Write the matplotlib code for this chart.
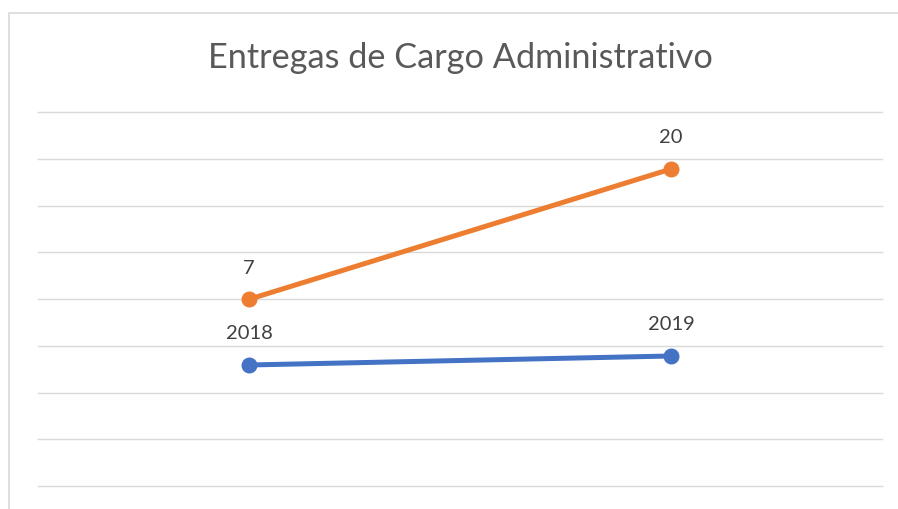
import numpy as np
import matplotlib.pyplot as plt
from matplotlib.patches import Rectangle

# data
categories = [0, 1]
orange_vals = [7, 20]
blue_vals = [2018, 2019]
title = "Entregas de Cargo Administrativo"

ORANGE = "#ED7D31"
BLUE = "#4472C4"
GRID = "#D9D9D9"
TXT = "#404040"

plt.rcParams["font.family"] = ["Lato", "DejaVu Sans"]

fig = plt.figure(figsize=(8.98, 5.09), dpi=100)
fig.patch.set_facecolor("white")

# chart frame
fig.patches.append(Rectangle((9 / 898, -0.1), 1.2, 0.1 + (1 - 13 / 509),
                             transform=fig.transFigure, fill=False,
                             edgecolor=GRID, lw=1.2))

ax = fig.add_axes([38 / 898, 23 / 509, 844 / 898, 374 / 509])
ylo, yhi = -11.63, 25.69
ax.set_ylim(ylo, yhi)
ax.set_xlim(-0.5, 1.5)
ax.set_yticks(np.linspace(ylo, yhi, 9))
ax.yaxis.grid(True, color=GRID, lw=1.0)
ax.set_axisbelow(True)
for s in ax.spines.values():
    s.set_visible(False)

ax.plot(categories, orange_vals, color=ORANGE, lw=3.6, marker="o",
        markersize=10.5, solid_capstyle="round", zorder=3)
for x, v in zip(categories, orange_vals):
    ax.annotate(str(v), (x, v), xytext=(0, 18.4), textcoords="offset points",
                ha="center", va="baseline", fontsize=14.5, color=TXT)

# second series sits on its own (hidden) axis
ax2 = ax.twinx()
ax2.set_ylim(2004.56, 2046.1)
ax2.set_xlim(-0.5, 1.5)
ax2.axis("off")
ax2.plot(categories, blue_vals, color=BLUE, lw=3.6, marker="o",
         markersize=10.5, solid_capstyle="round", zorder=3)
for x, v in zip(categories, blue_vals):
    ax2.annotate(str(v), (x, v), xytext=(0, 18.4), textcoords="offset points",
                 ha="center", va="baseline", fontsize=14.5, color=TXT)

ax.tick_params(left=False, right=False, bottom=False,
               labelleft=False, labelright=False, labelbottom=False)
for gl in ax.yaxis.get_gridlines():
    gl.set_clip_on(False)

fig.text(460 / 898, 1 - 58 / 509, title, ha="center", va="center",
         fontsize=24.7, color="#595959")

fig.savefig("out.png", dpi=100, facecolor="white")
